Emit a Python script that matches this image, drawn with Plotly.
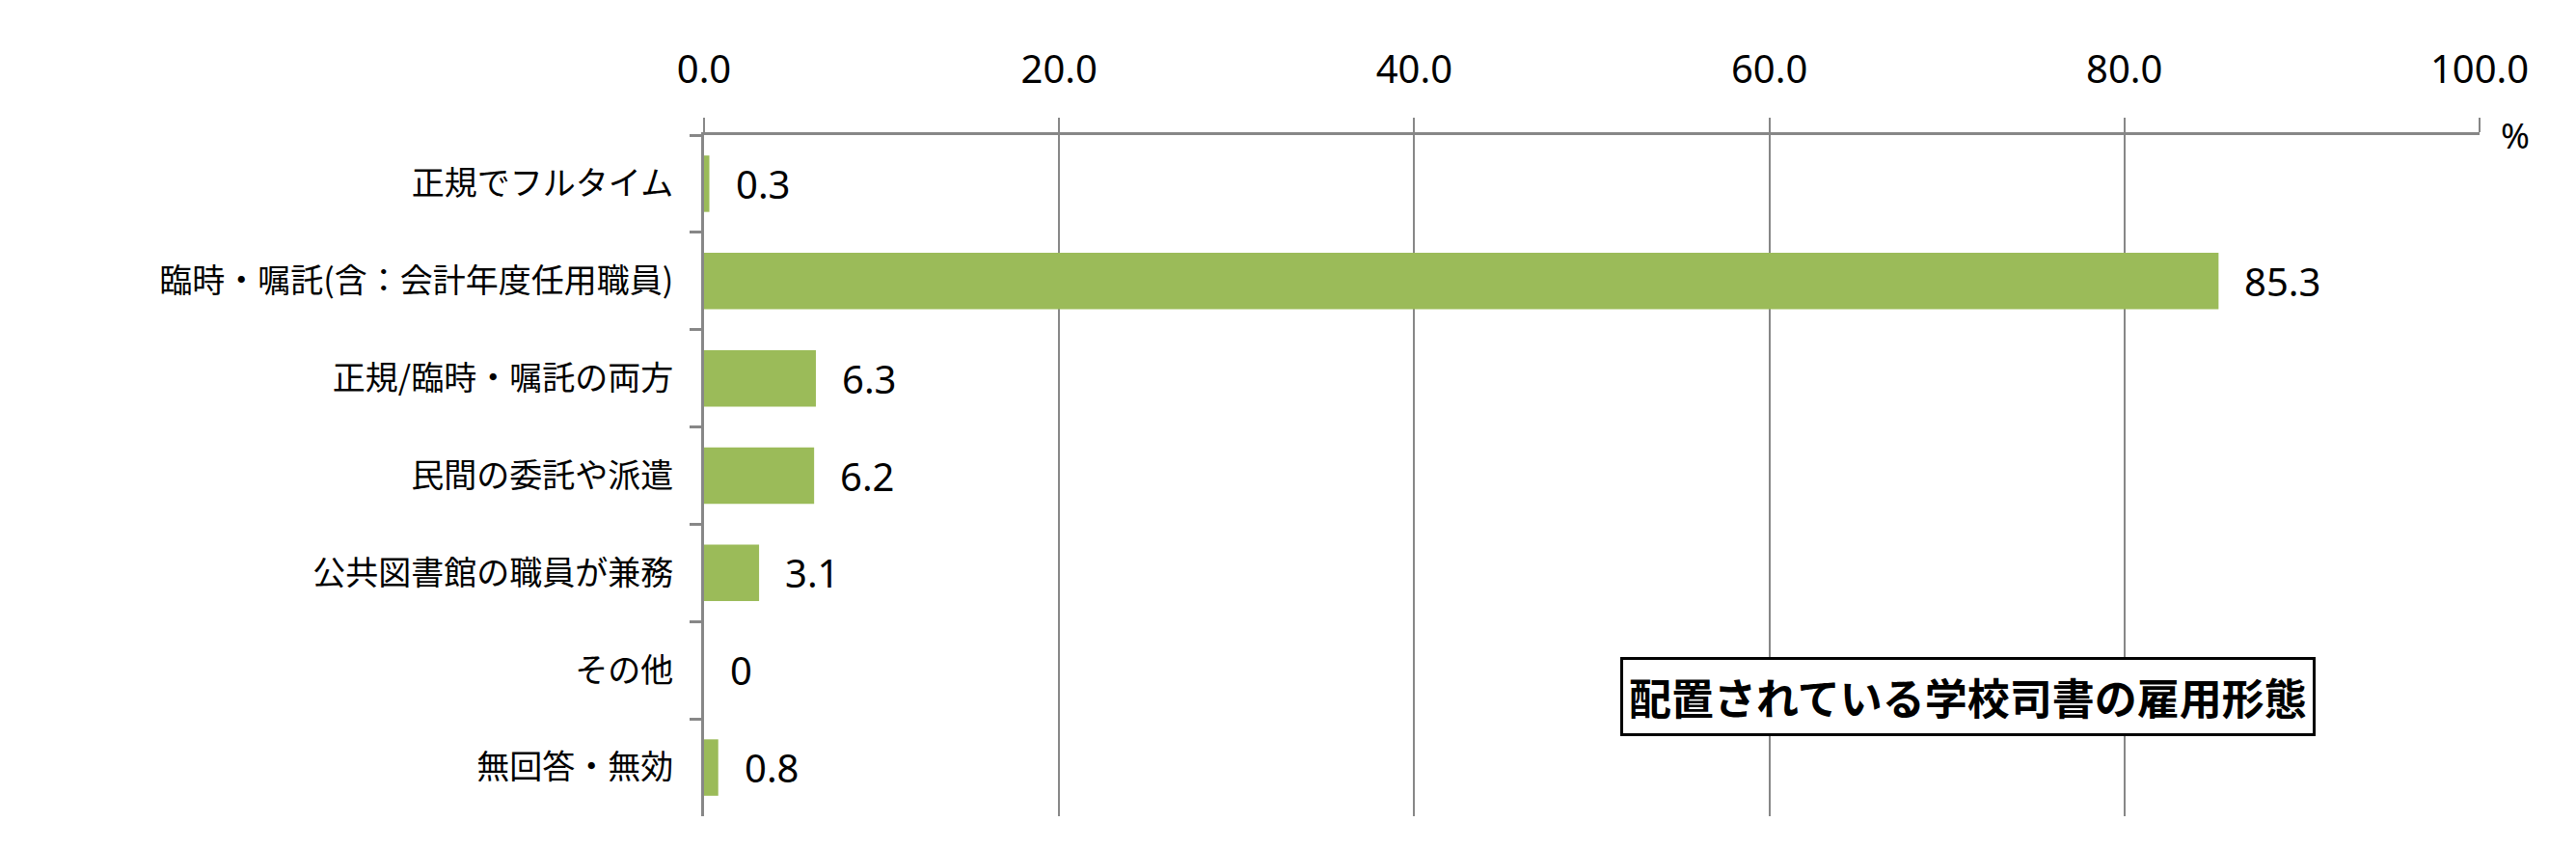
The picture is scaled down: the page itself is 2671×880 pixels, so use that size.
"""
Bar chart: employment type of school librarians (配置されている学校司書の雇用形態)
"""

import plotly.graph_objects as go

categories = [
    '正規でフルタイム',
    '臨時・嘱託(含：会計年度任用職員)',
    '正規/臨時・嘱託の両方',
    '民間の委託や派遣',
    '公共図書館の職員が兼務',
    'その他',
    '無回答・無効',
]
values = [0.3, 85.3, 6.3, 6.2, 3.1, 0, 0.8]
value_labels = ['0.3', '85.3', '6.3', '6.2', '3.1', '0', '0.8']
tick_vals = [0, 20, 40, 60, 80, 100]
tick_text = ['0.0', '20.0', '40.0', '60.0', '80.0', '100.0']

title_text = '配置されている学校司書の雇用形態'

BAR_COLOR = '#9BBB59'
GRID_COLOR = '#878787'
NUM_FONT = 'Noto Sans, Noto Sans CJK JP'
JP_FONT = 'Noto Sans CJK JP'

fig = go.Figure()

fig.add_trace(go.Bar(
    x=values,
    y=categories,
    orientation='h',
    marker=dict(color=BAR_COLOR, line=dict(width=0)),
    showlegend=False,
))

# value labels to the right of each bar
for cat, val, lab in zip(categories, values, value_labels):
    fig.add_annotation(
        x=val, y=cat, xref='x', yref='y',
        text=lab, showarrow=False,
        xanchor='left', yanchor='middle', xshift=25,
        font=dict(family=NUM_FONT, size=40, color='black'),
    )

# unit label at the end of the axis
fig.add_annotation(
    x=1, y=1, xref='paper', yref='paper',
    text='%', showarrow=False,
    xanchor='left', yanchor='middle', xshift=20,
    font=dict(family=NUM_FONT, size=36, color='black'),
)

# boxed title inside the plot
fig.add_annotation(
    x=0.712, y=0.176, xref='paper', yref='paper',
    text='<b>' + title_text + '</b>', showarrow=False,
    xanchor='center', yanchor='middle',
    font=dict(family=JP_FONT, size=44, color='black'),
    bgcolor='white', bordercolor='black', borderwidth=3, borderpad=6,
)

fig.update_layout(
    width=2671,
    height=880,
    margin=dict(l=722, r=108, t=132, b=42),
    paper_bgcolor='white',
    plot_bgcolor='white',
    bargap=0.42,
)

fig.update_xaxes(
    side='top',
    range=[0, 100],
    tickvals=tick_vals,
    ticktext=tick_text,
    showgrid=True, gridcolor=GRID_COLOR, gridwidth=2,
    showline=True, linecolor=GRID_COLOR, linewidth=3,
    ticks='outside', ticklen=15, tickwidth=2, tickcolor=GRID_COLOR,
    ticklabelstandoff=20,
    tickfont=dict(family=NUM_FONT, size=40, color='black'),
    zeroline=False,
)

fig.update_yaxes(
    autorange='reversed',
    showgrid=False,
    showline=True, linecolor=GRID_COLOR, linewidth=3,
    ticks='outside', ticklen=12, tickwidth=3, tickcolor=GRID_COLOR,
    tickson='boundaries',
    ticklabelstandoff=22,
    tickfont=dict(family=JP_FONT, size=34, color='black'),
)

fig.write_html('out.html')
